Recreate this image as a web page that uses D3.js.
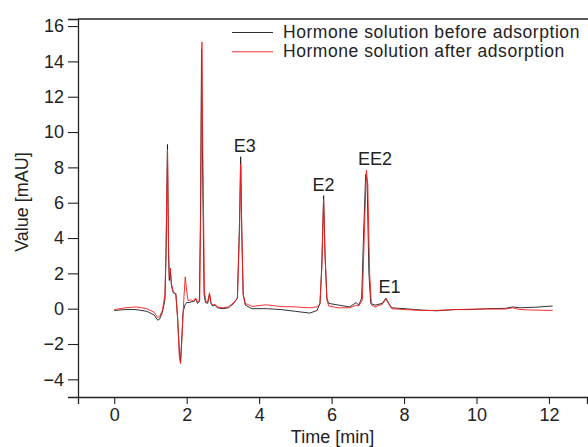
<!DOCTYPE html>
<html>
<head>
<meta charset="utf-8">
<script src="https://cdn.jsdelivr.net/npm/d3@7"></script>
<style>
  body { margin: 0; background: #fff; }
  svg { display: block; font-family: "Liberation Sans", Arial, sans-serif; }
</style>
</head>
<body>
<div id="chart"></div>
<script>
// chromatogram traces, [time in min, signal in mAU]
const before = [
    [0.0, -0.1], [0.3, -0.05], [0.6, -0.05], [0.9, -0.15], [1.1, -0.35], [1.2, -0.65],
    [1.25, -0.6], [1.33, -0.2], [1.40, 0.5], [1.43, 3.0], [1.47, 9.3], [1.50, 3.0],
    [1.52, 1.6], [1.55, 2.1], [1.58, 1.3], [1.63, 0.9], [1.70, 0.85], [1.75, -0.5],
    [1.80, -2.5], [1.83, -3.0], [1.86, -2.0], [1.90, -0.2], [1.95, 0.2], [2.00, 0.35],
    [2.08, 0.35], [2.15, 0.4], [2.20, 0.4], [2.25, 0.55], [2.30, 0.3], [2.35, 0.4],
    [2.38, 5.0], [2.41, 14.7], [2.44, 8.0], [2.48, 0.8], [2.52, 0.35], [2.58, 0.3],
    [2.63, 0.8], [2.67, 0.3], [2.72, 0.15], [2.78, 0.2], [2.85, 0.05], [3.0, 0.0],
    [3.15, 0.05], [3.30, 0.3], [3.40, 0.6], [3.46, 5.0], [3.49, 8.6], [3.52, 4.5],
    [3.56, 0.8], [3.62, 0.2], [3.8, 0.0], [4.2, 0.0], [4.6, -0.05], [5.0, -0.15],
    [5.4, -0.25], [5.6, -0.1], [5.68, 0.3], [5.73, 2.5], [5.78, 6.4], [5.82, 3.0],
    [5.87, 0.6], [5.92, 0.3], [6.2, 0.2], [6.5, 0.1], [6.68, 0.35], [6.75, 0.2],
    [6.83, 0.6], [6.88, 4.0], [6.94, 7.6], [6.98, 7.2], [7.03, 2.0], [7.08, 0.3],
    [7.2, 0.2], [7.4, 0.3], [7.5, 0.6], [7.58, 0.3], [7.66, 0.05], [8.0, 0.0],
    [8.5, -0.08], [8.9, -0.12], [9.4, -0.05], [9.8, -0.05], [10.3, 0.0], [10.8, 0.02],
    [11.0, 0.1], [11.2, 0.05], [11.6, 0.08], [12.1, 0.15]
];
const after = [
    [0.0, -0.05], [0.3, 0.05], [0.6, 0.1], [0.9, 0.0], [1.1, -0.2], [1.2, -0.5],
    [1.25, -0.45], [1.33, -0.1], [1.40, 0.8], [1.43, 3.5], [1.47, 9.0], [1.50, 3.5],
    [1.52, 1.8], [1.55, 2.3], [1.58, 1.4], [1.63, 0.95], [1.70, 0.85], [1.75, -0.6],
    [1.80, -2.8], [1.83, -3.1], [1.87, -1.5], [1.92, 0.5], [1.96, 1.8], [2.00, 1.0],
    [2.04, 0.45], [2.10, 0.5], [2.17, 0.45], [2.25, 0.6], [2.30, 0.35], [2.36, 0.5],
    [2.39, 6.0], [2.42, 15.1], [2.45, 8.0], [2.49, 1.0], [2.53, 0.4], [2.58, 0.4],
    [2.63, 0.9], [2.67, 0.35], [2.72, 0.2], [2.78, 0.25], [2.85, 0.1], [3.0, 0.05],
    [3.15, 0.1], [3.30, 0.35], [3.40, 0.6], [3.46, 4.5], [3.49, 8.2], [3.52, 4.5],
    [3.56, 0.8], [3.62, 0.3], [3.8, 0.13], [4.2, 0.22], [4.6, 0.12], [5.0, 0.1],
    [5.4, 0.05], [5.6, 0.1], [5.68, 0.3], [5.73, 2.3], [5.78, 6.2], [5.82, 3.0],
    [5.87, 0.5], [5.92, 0.15], [6.2, 0.05], [6.5, 0.05], [6.68, 0.2], [6.75, 0.15],
    [6.85, 0.5], [6.90, 4.0], [6.96, 7.85], [7.00, 7.0], [7.05, 2.0], [7.10, 0.2],
    [7.2, 0.1], [7.4, 0.25], [7.5, 0.55], [7.58, 0.25], [7.66, 0.0], [8.0, -0.05],
    [8.5, -0.1], [8.9, -0.1], [9.4, -0.05], [9.8, -0.03], [10.3, -0.02], [10.8, -0.02],
    [11.0, 0.05], [11.2, -0.05], [11.6, -0.08], [12.1, -0.1]
];

const seriesNames = ["Hormone solution before adsorption", "Hormone solution after adsorption"];
const peakNames = ["E3", "E2", "EE2", "E1"];
const peakTimes = [3.6, 5.78, 7.2, 7.6];   // where each label is centred
const xTicks = [0, 2, 4, 6, 8, 10, 12];
const yTicks = [-4, -2, 0, 2, 4, 6, 8, 10, 12, 14, 16];

const width = 588, height = 447;
const margin = { top: 19, right: 1, bottom: 50, left: 78 };
const colors = ["#1a1a1a", "#ff1a1a"];

const svg = d3.select("#chart").append("svg")
    .attr("width", width)
    .attr("height", height);

const x = d3.scaleLinear().domain([-1, 13.05]).range([margin.left, width - margin.right]);
const y = d3.scaleLinear().domain([-5, 16.4]).range([height - margin.bottom, margin.top]);

const line = d3.line().x(d => x(d[0])).y(d => y(d[1]));

// traces: before first, after drawn on top
[before, after].forEach((data, i) => {
    svg.append("path")
        .datum(data)
        .attr("fill", "none")
        .attr("stroke", colors[i])
        .attr("stroke-width", 0.9)
        .attr("stroke-linejoin", "round")
        .attr("d", line);
});

// axes
const xAxis = d3.axisBottom(x).tickValues(xTicks).tickSize(7).tickPadding(4)
    .tickFormat(d3.format("d"));
const xMinor = d3.axisBottom(x).tickValues(d3.range(-1, 14, 2)).tickSize(4).tickFormat("");
const yAxis = d3.axisLeft(y).tickValues(yTicks).tickSize(10).tickPadding(4)
    .tickFormat(d => d < 0 ? "\u2212" + Math.abs(d) : d);
const yMinor = d3.axisLeft(y).tickValues(d3.range(-5, 17, 2)).tickSize(5).tickFormat("");

const gx = svg.append("g").attr("transform", `translate(0,${y(-5)})`);
gx.call(xMinor);
gx.call(xAxis);
const gy = svg.append("g").attr("transform", `translate(${x(-1)},0)`);
gy.call(yMinor);
gy.call(yAxis);

svg.selectAll(".domain").attr("stroke", "#222").attr("stroke-width", 1.3);
svg.selectAll(".tick line").attr("stroke", "#222").attr("stroke-width", 1.1);
svg.selectAll(".tick text").attr("fill", "#222").style("font-size", "18px");

// top border
svg.append("line")
    .attr("x1", x(-1)).attr("x2", width)
    .attr("y1", y(16.4)).attr("y2", y(16.4))
    .attr("stroke", "#222").attr("stroke-width", 1.3);

// axis titles
svg.append("text")
    .attr("x", (x(-1) + x(13.05)) / 2)
    .attr("y", 443)
    .attr("text-anchor", "middle")
    .attr("fill", "#222")
    .style("font-size", "18px")
    .text("Time [min]");

svg.append("text")
    .attr("transform", `translate(28,${(y(-5) + y(16.4)) / 2 - 6}) rotate(-90)`)
    .attr("text-anchor", "middle")
    .attr("fill", "#222")
    .style("font-size", "18px")
    .text("Value [mAU]");

// peak labels sit just above the highest trace near each peak
peakNames.forEach((name, i) => {
    const t = peakTimes[i];
    const near = before.concat(after).filter(d => Math.abs(d[0] - t) <= 0.3);
    const top = d3.max(near, d => d[1]);
    svg.append("text")
        .attr("x", x(t))
        .attr("y", y(top) - 5)
        .attr("text-anchor", "middle")
        .attr("fill", "#222")
        .style("font-size", "18px")
        .text(name);
});

// legend
const legend = svg.append("g").attr("transform", "translate(232,32.5)");
seriesNames.forEach((name, i) => {
    const row = legend.append("g").attr("transform", `translate(0,${i * 19.3})`);
    row.append("line")
        .attr("x1", 0).attr("x2", 41)
        .attr("stroke", colors[i])
        .attr("stroke-width", 0.9);
    row.append("text")
        .attr("x", 51)
        .attr("y", 5.5)
        .attr("fill", "#222")
        .style("font-size", "17.5px")
        .style("letter-spacing", "0.55px")
        .text(name);
});
</script>
</body>
</html>
